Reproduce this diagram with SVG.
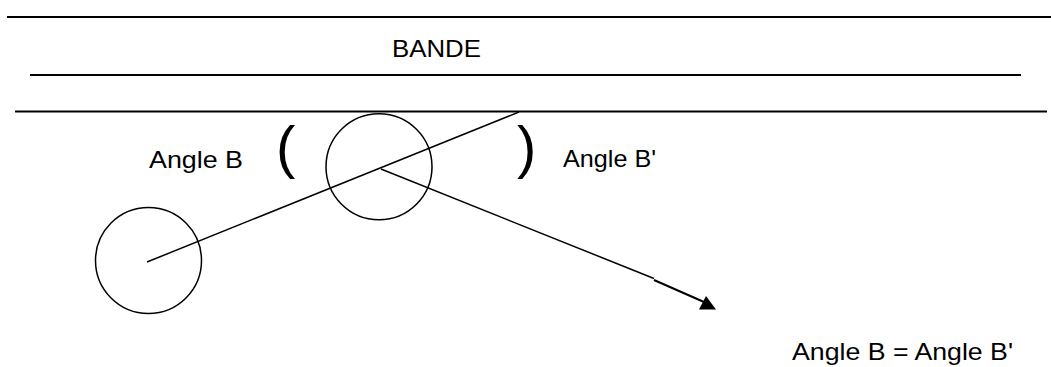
<svg xmlns="http://www.w3.org/2000/svg" width="1051" height="367" viewBox="0 0 1051 367">
<style>
.ln{stroke:#000;stroke-width:2;fill:none}
.thin{stroke:#000;stroke-width:1.5;fill:none}
.ball{stroke:#000;stroke-width:1.5;fill:none}
.t{font-family:"Liberation Sans",Arial,sans-serif;font-size:24px;fill:#000}
.p{font-family:"Liberation Sans",Arial,sans-serif;font-size:58px;fill:#000}
</style>
<g id="bande">
<line class="ln" x1="7" y1="17" x2="1051" y2="17"/>
<line class="ln" x1="30" y1="75" x2="1021" y2="75"/>
<line class="ln" x1="15" y1="111.5" x2="1047" y2="111.5"/>
<text class="t" x="392" y="56.5" font-size="25" textLength="89" lengthAdjust="spacingAndGlyphs">BANDE</text>
</g>
<g id="ball1">
<circle class="ball" cx="148.5" cy="260.5" r="53"/>
</g>
<g id="ball2">
<circle class="ball" cx="379" cy="166.7" r="53"/>
</g>
<g id="labels">
<text class="t" x="149" y="168.3" textLength="94" lengthAdjust="spacingAndGlyphs">Angle B</text>
<text class="p" x="276" y="167">(</text>
<text class="p" x="517" y="167">)</text>
<text class="t" x="563" y="166.7" textLength="93" lengthAdjust="spacingAndGlyphs">Angle B'</text>
<text class="t" x="792" y="360" textLength="221" lengthAdjust="spacingAndGlyphs">Angle B = Angle B'</text>
</g>
<g id="connectors">
<line class="thin" x1="147" y1="262" x2="519" y2="112"/>
<line class="thin" x1="381" y1="169" x2="654" y2="278.5"/>
<line class="ln" x1="654" y1="280" x2="704" y2="302"/>
<polygon points="699,309.5 716,309.5 706,296" fill="#000"/>
</g>
</svg>
